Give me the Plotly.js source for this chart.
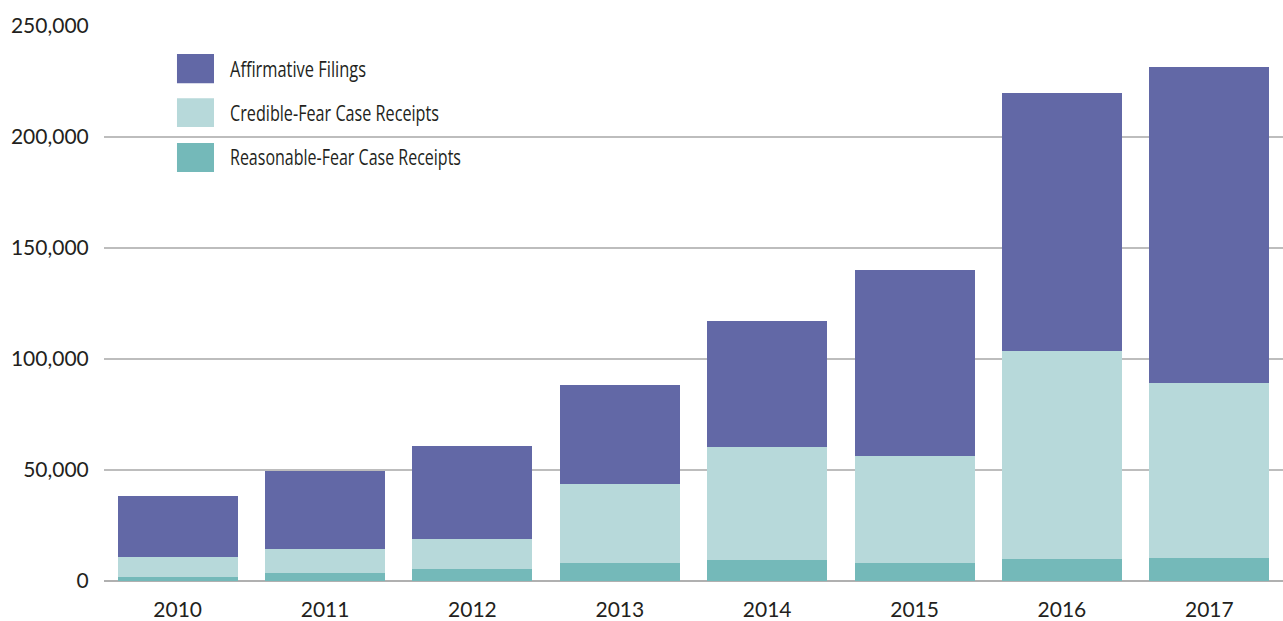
<!DOCTYPE html>
<html>
<head>
<meta charset="utf-8">
<script src="https://cdn.plot.ly/plotly-3.0.1.min.js"></script>
<style>html,body{margin:0;padding:0;background:#fff;}#chart{width:1283px;height:621px;}</style>
</head>
<body>
<div id="chart"></div>
<script>
const years = ['2010','2011','2012','2013','2014','2015','2016','2017'];
const reasonableFear = [2000, 3400, 5200, 8100, 9300, 8100, 9800, 10200];
const credibleFear = [9000, 10800, 13500, 35400, 50900, 48000, 93800, 78900];
const affirmative = [27100, 35300, 41900, 44700, 56900, 83900, 116000, 142600];
const seriesNames = ['Affirmative Filings', 'Credible-Fear Case Receipts', 'Reasonable-Fear Case Receipts'];
const seriesColors = ['#6268a6', '#b7d9da', '#74b9b9'];
const yTickVals = [0, 50000, 100000, 150000, 200000, 250000];

const traces = [
  {x: years, y: reasonableFear, name: seriesNames[2], color: seriesColors[2]},
  {x: years, y: credibleFear, name: seriesNames[1], color: seriesColors[1]},
  {x: years, y: affirmative, name: seriesNames[0], color: seriesColors[0]}
].map(s => ({
  type: 'bar', x: s.x, y: s.y, name: s.name,
  marker: {color: s.color, line: {width: 0}},
  hoverinfo: 'x+y+name'
}));

// custom legend (large swatches)
const legendRows = [
  {y0: 0.897, y1: 0.9495, ty: 0.9234, w: 136},
  {y0: 0.818, y1: 0.870, ty: 0.8441, w: 209},
  {y0: 0.737, y1: 0.789, ty: 0.7631, w: 231}
];
const shapes = legendRows.map((r, i) => ({
  type: 'rect', xref: 'paper', yref: 'paper',
  x0: 0.0619, x1: 0.0933, y0: r.y0, y1: r.y1,
  fillcolor: seriesColors[i], line: {width: 0}
}));
const annotations = legendRows.map((r, i) => ({
  xref: 'paper', yref: 'paper', x: 0.1052, y: r.ty,
  xanchor: 'left', yanchor: 'middle', showarrow: false,
  text: seriesNames[i],
  font: {family: '"Open Sans", sans-serif', size: 21, color: '#231f20'}
}));

const layout = {
  width: 1283, height: 621,
  margin: {l: 104, r: 0, t: 26, b: 40},
  paper_bgcolor: '#ffffff', plot_bgcolor: '#ffffff',
  barmode: 'stack', bargap: 0.185,
  showlegend: false,
  font: {family: 'Lato, "Open Sans", sans-serif', size: 21, color: '#231f20'},
  xaxis: {
    type: 'category', showgrid: false, zeroline: false, showline: false,
    ticks: 'outside', ticklen: 10, tickcolor: 'rgba(0,0,0,0)',
    tickfont: {size: 21, color: '#231f20'}
  },
  yaxis: {
    range: [0, 250000], tickvals: yTickVals, tickformat: ',d',
    showgrid: true, gridcolor: '#bdbdbd', gridwidth: 1.5,
    zeroline: true, zerolinecolor: '#b0b0b0', zerolinewidth: 2,
    showline: false,
    ticks: 'outside', ticklen: 10, tickcolor: 'rgba(0,0,0,0)',
    tickfont: {size: 21, color: '#231f20'}
  },
  shapes: shapes,
  annotations: annotations
};

Plotly.newPlot('chart', traces, layout, {displayModeBar: false, staticPlot: true}).then(gd => {
  // condense legend text to match the narrow typeface of the original
  const texts = gd.querySelectorAll('.annotation-text');
  texts.forEach((t, i) => {
    if (legendRows[i]) {
      const bb = t.getBBox();
      t.setAttribute('text-anchor', 'start');
      t.setAttribute('x', bb.x);
      t.setAttribute('textLength', legendRows[i].w);
      t.setAttribute('lengthAdjust', 'spacingAndGlyphs');
    }
  });
});
</script>
</body>
</html>
